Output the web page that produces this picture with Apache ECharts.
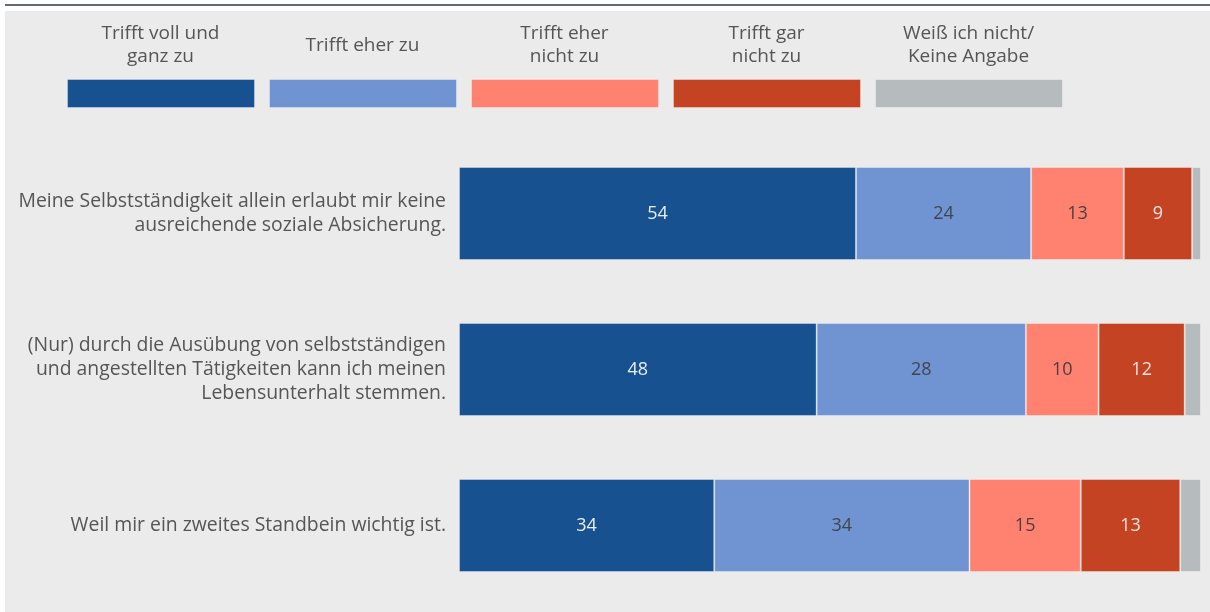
<!DOCTYPE html>
<html>
<head>
<meta charset="utf-8">
<script src="https://cdn.jsdelivr.net/npm/echarts@6/dist/echarts.min.js"></script>
<style>
html,body{margin:0;padding:0;background:#fff;}
#chart{width:1210px;height:612px;}
</style>
</head>
<body>
<div id="chart"></div>
<script>
const categories = [
  "Meine Selbstständigkeit allein erlaubt mir keine\nausreichende soziale Absicherung.",
  "(Nur) durch die Ausübung von selbstständigen\nund angestellten Tätigkeiten kann ich meinen\nLebensunterhalt stemmen.",
  "Weil mir ein zweites Standbein wichtig ist."
];
const seriesNames = ["Trifft voll und\nganz zu", "Trifft eher zu", "Trifft eher\nnicht zu", "Trifft gar\nnicht zu", "Weiß ich nicht/\nKeine Angabe"];
const vollUndGanz = [53.5, 48.2, 34.4];
const eherZu = [23.6, 28.2, 34.4];
const eherNicht = [12.5, 9.8, 15.0];
const garNicht = [9.2, 11.6, 13.4];
const weissNicht = [1.2, 2.2, 2.8];

const colors = ["#175190", "#7093d1", "#ff8270", "#c44322", "#b6bbbe"];
const labelColors = ["#e8eef6", "#3f4650", "#4a4040", "#f6e6e0", "#555"];
const values = [vollUndGanz, eherZu, eherNicht, garNicht, weissNicht];
const FONT = "Open Sans";
const FS = 19;

const chart = echarts.init(document.getElementById('chart'));

const series = seriesNames.map((n, i) => ({
  name: n,
  type: 'bar',
  stack: 'total',
  barWidth: 93,
  data: values[i],
  itemStyle: { color: colors[i], borderColor: 'rgba(255,255,255,0.35)', borderWidth: 1 },
  emphasis: { disabled: true },
  label: {
    show: i < 4,
    position: 'inside',
    fontFamily: FONT,
    fontSize: 18,
    color: labelColors[i],
    formatter: p => String(Math.round(p.value))
  }
}));

const legendLeft = 67, legendItem = 187, legendStep = 202;
const legendTexts = seriesNames.map((n, i) => ({
  type: 'text',
  x: legendLeft + legendItem / 2 + i * legendStep,
  y: 45.5,
  style: {
    text: n,
    fontFamily: FONT,
    fontSize: FS,
    lineHeight: 23,
    fill: '#555',
    align: 'center',
    verticalAlign: 'middle'
  },
  z: 10
}));

chart.setOption({
  backgroundColor: '#ffffff',
  animation: false,
  graphic: [
    { type: 'rect', shape: { x: 5, y: 11, width: 1205, height: 601 }, style: { fill: '#ebebeb' }, z: -10 },
    { type: 'rect', shape: { x: 5, y: 4, width: 1205, height: 2 }, style: { fill: '#636b72' }, z: -10 },
    ...legendTexts
  ],
  legend: {
    left: legendLeft - 5,
    top: 74,
    icon: 'rect',
    itemWidth: legendItem,
    itemHeight: 28,
    itemGap: 14,
    selectedMode: false,
    formatter: () => '',
    textStyle: { fontSize: 1 },
    data: seriesNames.map((n, i) => ({ name: n, itemStyle: { color: colors[i], borderColor: 'rgba(255,255,255,0.35)', borderWidth: 1 } }))
  },
  grid: { left: 459, right: 9, top: 135.5, bottom: 8.5, containLabel: false },
  xAxis: { type: 'value', min: 0, max: 100, show: false },
  yAxis: {
    type: 'category',
    inverse: true,
    data: categories,
    axisLine: { show: false },
    axisTick: { show: false },
    splitLine: { show: false },
    axisLabel: {
      margin: 13,
      fontFamily: FONT,
      fontSize: 19.4,
      lineHeight: 24,
      color: '#555',
      align: 'right'
    }
  },
  series: series
});
</script>
</body>
</html>
